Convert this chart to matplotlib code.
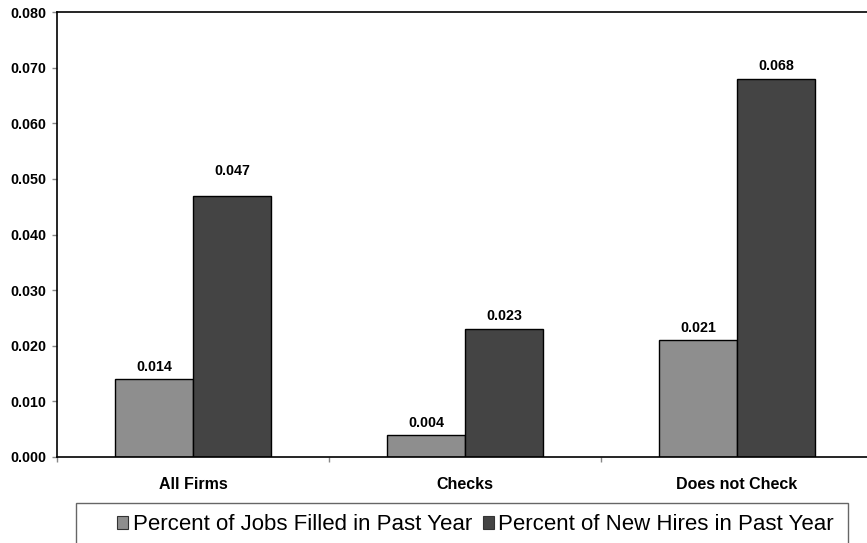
import numpy as np
import matplotlib
matplotlib.use("Agg")
import matplotlib.pyplot as plt
from matplotlib.patches import Patch, Rectangle

# ---- data ----
categories = ["All Firms", "Checks", "Does not Check"]
jobs_filled = [0.014, 0.004, 0.021]
new_hires = [0.047, 0.023, 0.068]
series_names = ["Percent of Jobs Filled in Past Year", "Percent of New Hires in Past Year"]
y_ticks = [0.0, 0.01, 0.02, 0.03, 0.04, 0.05, 0.06, 0.07, 0.08]

# ---- style ----
plt.rcParams['font.family'] = ['Liberation Sans', 'DejaVu Sans']
light = "#8e8e8e"
dark = "#444444"
tick_gray = "#888888"
# extra label offsets (pixels above bar top)
jobs_label_off = [8, 8, 8]
hires_label_off = [21, 9, 9]

W, H = 867, 543
fig = plt.figure(figsize=(W / 100, H / 100), dpi=100)
ax = fig.add_axes([57 / W, 1 - 457 / H, (873 - 57) / W, (457 - 12) / H])

x = np.arange(len(categories))
bw = 78 / 272
b1 = ax.bar(x - bw / 2, jobs_filled, bw, color=light, edgecolor="black", linewidth=1.0)
b2 = ax.bar(x + bw / 2, new_hires, bw, color=dark, edgecolor="black", linewidth=1.0)

for xi, v, off in zip(x - bw / 2, jobs_filled, jobs_label_off):
    ax.annotate(f"{v:.3f}", (xi, v), xytext=(0, off), textcoords="offset pixels",
                ha="center", va="baseline", fontsize=10.3, fontweight="bold")
for xi, v, off in zip(x + bw / 2, new_hires, hires_label_off):
    ax.annotate(f"{v:.3f}", (xi, v), xytext=(0, off), textcoords="offset pixels",
                ha="center", va="baseline", fontsize=10.3, fontweight="bold")

ax.set_xlim(-0.5, len(categories) - 0.5)
ax.set_ylim(0, 0.08)
ax.set_yticks(y_ticks)
ax.set_yticklabels([f"{v:.3f}" for v in y_ticks], fontsize=10.3, fontweight="bold")
ax.tick_params(axis="y", direction="out", length=3.6, width=1, color=tick_gray, pad=4.3)

ax.set_xticks(x)
ax.set_xticklabels(categories, fontsize=11.5, fontweight="bold")
ax.tick_params(axis="x", which="major", length=0, pad=14.4)
ax.set_xticks(np.arange(-0.5, len(categories) - 0.5, 1.0), minor=True)
ax.tick_params(axis="x", which="minor", direction="out", length=3.6, width=1, color=tick_gray)

for s in ["left", "bottom", "top"]:
    ax.spines[s].set_color("black")
    ax.spines[s].set_linewidth(1.2)
ax.spines["right"].set_visible(False)

# legend
handles = [Patch(facecolor=light, edgecolor="#333333", linewidth=0.8),
           Patch(facecolor=dark, edgecolor="#333333", linewidth=0.8)]
fig.legend(handles, series_names, ncol=2, frameon=False, fontsize=16,
           handlelength=0.5, handleheight=0.5, handletextpad=0.2, columnspacing=0.5,
           loc="center left", bbox_to_anchor=(117 / W, 1 - 525 / H),
           borderpad=0, borderaxespad=0)
fig.patches.append(Rectangle((76 / W, 1 - 546 / H), (848 - 76) / W, (546 - 503) / H,
                             transform=fig.transFigure, fill=False,
                             edgecolor="#666666", linewidth=1.0))

fig.savefig("out.png", dpi=100)
